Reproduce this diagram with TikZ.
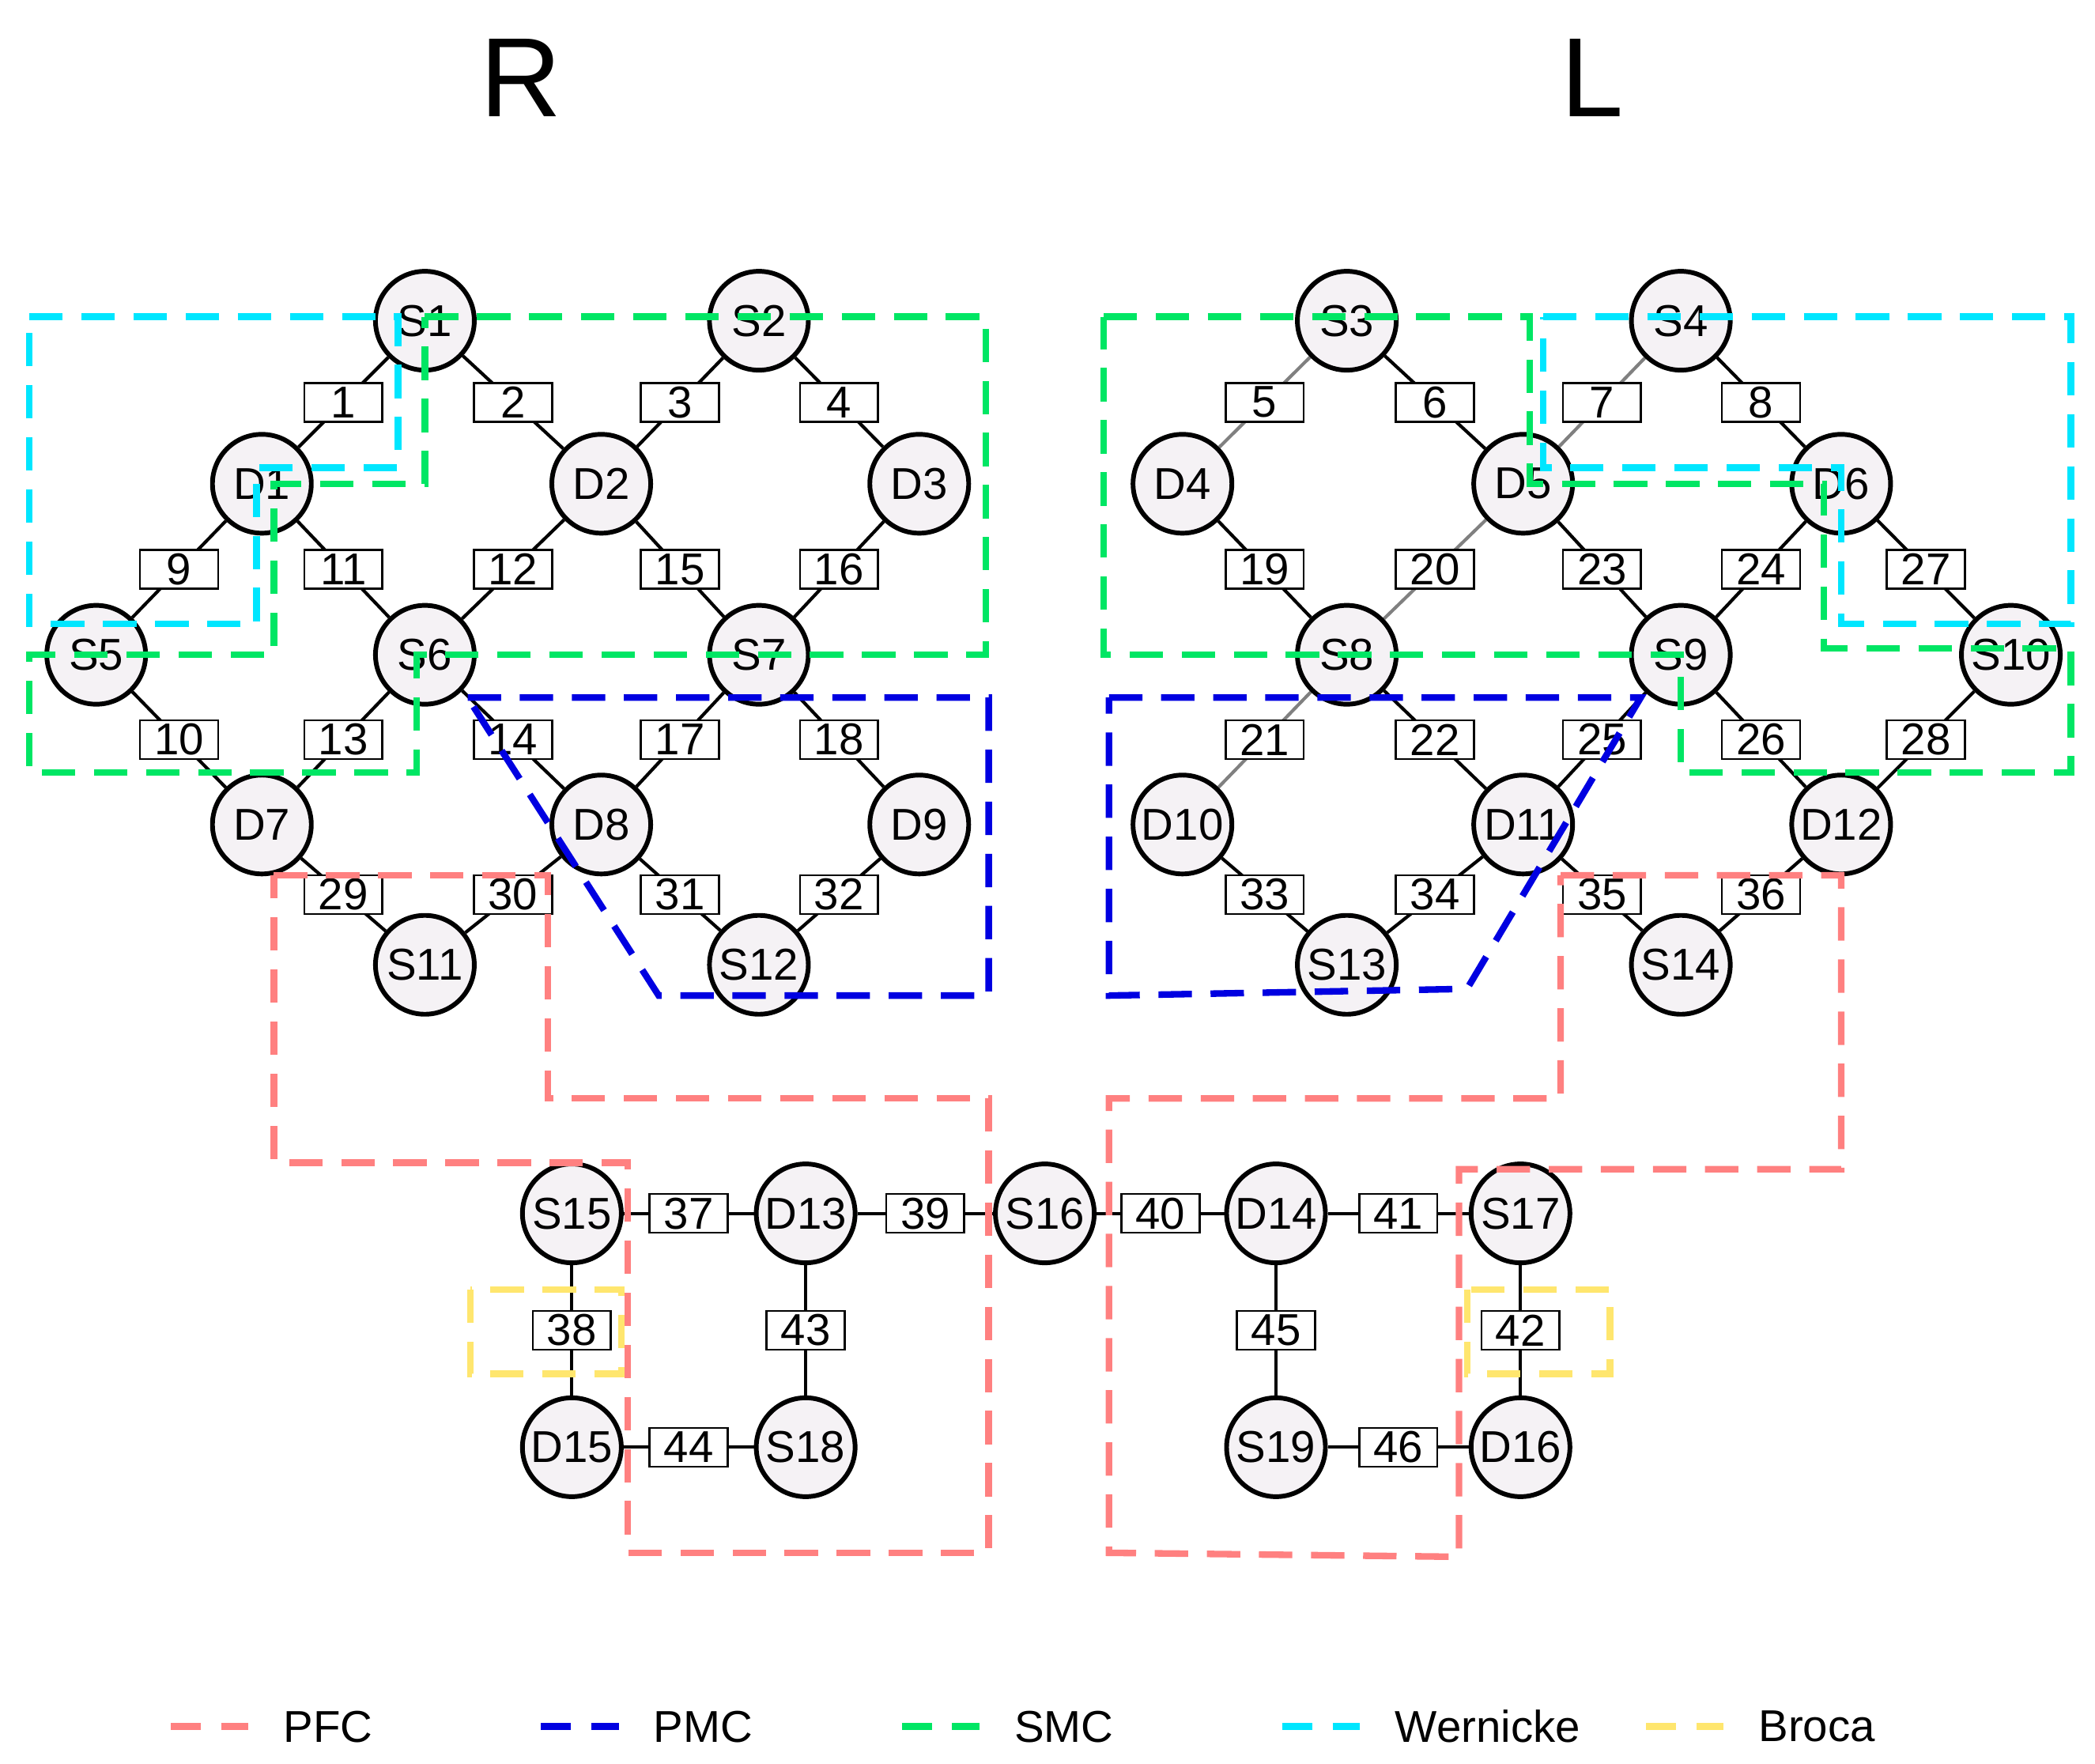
\documentclass[tikz,border=0pt]{standalone}
\usepackage{fontspec}
\setmainfont{Liberation Sans}
\usetikzlibrary{backgrounds}
\definecolor{pfc}{RGB}{255,128,128}
\definecolor{pmc}{RGB}{0,0,225}
\definecolor{smc}{RGB}{0,230,100}
\definecolor{wer}{RGB}{0,230,255}
\definecolor{bro}{RGB}{255,230,110}
\definecolor{nfill}{RGB}{245,242,245}
\tikzset{
 nd/.style={circle,draw=black,line width=2pt,fill=nfill,minimum size=1.48cm,inner sep=0pt,font=\fontsize{19}{21}\selectfont},
 lbl/.style={draw=black,fill=white,line width=0.9pt,minimum width=1.17cm,minimum height=0.58cm,inner sep=0pt,font=\fontsize{19}{21}\selectfont},
 reg/.style={dashed,line width=2.8pt,dash pattern=on 0.5cm off 0.28cm},
 ed/.style={line width=1.4pt},
}
\newcommand{\edg}[4]{\begin{pgfonlayer}{background}\draw[ed,#4] (#1)--(#2);\end{pgfonlayer}\path (#1)--node[lbl]{#3}(#2);}
\begin{document}
\begin{tikzpicture}[x=0.02cm,y=-0.02cm]
\useasboundingbox (0,0) rectangle (1568,1320);
\node[font=\fontsize{48}{50}\selectfont] at (390,58) {R};
\node[font=\fontsize{48}{50}\selectfont] at (1192,58) {L};
\foreach \n/\x/\y in {S1/318/240,S2/568/240,D1/196/362,D2/450/362,D3/688/362,S5/72/490,S6/318/490,S7/568/490,D7/196/617,D8/450/617,D9/688/617,S11/318/722,S12/568/722,
S3/1008/240,S4/1258/240,D4/885/362,D5/1140/362,D6/1378/362,S8/1008/490,S9/1258/490,S10/1505/490,D10/885/617,D11/1140/617,D12/1378/617,S13/1008/722,S14/1258/722,
S15/428/908,D13/603/908,S16/782/908,D14/955/908,S17/1138/908,D15/428/1083,S18/603/1083,S19/955/1083,D16/1138/1083}
 \node[nd] (\n) at (\x,\y) {\n};
\edg{S1}{D1}{1}{}\edg{S1}{D2}{2}{}\edg{S2}{D2}{3}{}\edg{S2}{D3}{4}{}
\edg{D1}{S5}{9}{}\edg{D1}{S6}{11}{}\edg{D2}{S6}{12}{}\edg{D2}{S7}{15}{}\edg{D3}{S7}{16}{}
\edg{S5}{D7}{10}{}\edg{S6}{D7}{13}{}\edg{S6}{D8}{14}{}\edg{S7}{D8}{17}{}\edg{S7}{D9}{18}{}
\edg{D7}{S11}{29}{}\edg{S11}{D8}{30}{}\edg{D8}{S12}{31}{}\edg{S12}{D9}{32}{}
\edg{S3}{D4}{5}{gray}\edg{S3}{D5}{6}{}\edg{S4}{D5}{7}{gray}\edg{S4}{D6}{8}{}
\edg{D4}{S8}{19}{}\edg{D5}{S8}{20}{gray}\edg{D5}{S9}{23}{}\edg{D6}{S9}{24}{}\edg{D6}{S10}{27}{}
\edg{S8}{D10}{21}{gray}\edg{S8}{D11}{22}{}\edg{S9}{D11}{25}{}\edg{S9}{D12}{26}{}\edg{S10}{D12}{28}{}
\edg{D10}{S13}{33}{}\edg{S13}{D11}{34}{}\edg{D11}{S14}{35}{}\edg{S14}{D12}{36}{}
\edg{S15}{D13}{37}{}\edg{D13}{S16}{39}{}\edg{S16}{D14}{40}{}\edg{D14}{S17}{41}{}
\edg{S15}{D15}{38}{}\edg{D13}{S18}{43}{}\edg{D14}{S19}{45}{}\edg{S17}{D16}{42}{}
\edg{D15}{S18}{44}{}\edg{S19}{D16}{46}{}
% regions
\draw[reg,wer] (22,237)--(298,237)--(298,350)--(192,350)--(192,467)--(22,467)--cycle;
\draw[reg,smc] (318,237)--(738,237)--(738,490)--(312,490)--(312,578)--(22,578)--(22,490)--(205,490)--(205,362)--(318,362)--cycle;
\draw[reg,pmc] (350,522)--(740,522)--(740,745)--(493,745)--cycle;
\draw[reg,pfc] (205,655)--(410,655)--(410,822)--(740,822)--(740,1162)--(470,1162)--(470,870)--(205,870)--cycle;
\draw[reg,smc] (826,237)--(1145,237)--(1145,362)--(1365,362)--(1365,485)--(1550,485)--(1550,578)--(1258,578)--(1258,490)--(826,490)--cycle;
\draw[reg,wer] (1155,237)--(1550,237)--(1550,467)--(1378,467)--(1378,350)--(1155,350)--cycle;
\draw[reg,pmc] (830,522)--(1228,522)--(1098,740)--(830,745)--cycle;
\draw[reg,pfc] (1168,655)--(1378,655)--(1378,875)--(1092,875)--(1092,1165)--(830,1162)--(830,822)--(1168,822)--cycle;
\draw[reg,bro] (352,965) rectangle (465,1028);
\draw[reg,bro] (1098,965) rectangle (1205,1028);
% legend
\foreach \c/\t/\x in {pfc/PFC/128,pmc/PMC/405,smc/SMC/675,wer/Wernicke/960,bro/Broca/1232}{
 \coordinate (L\t) at (\x,1292);
 \draw[\c,line width=2.8pt,dash pattern=on 0.45cm off 0.3cm] (L\t)--++(58,0);
 \node[anchor=west,font=\fontsize{19}{21}\selectfont] (T\t) at (\x+78,1292) {\t};
}
\end{tikzpicture}
\end{document}
